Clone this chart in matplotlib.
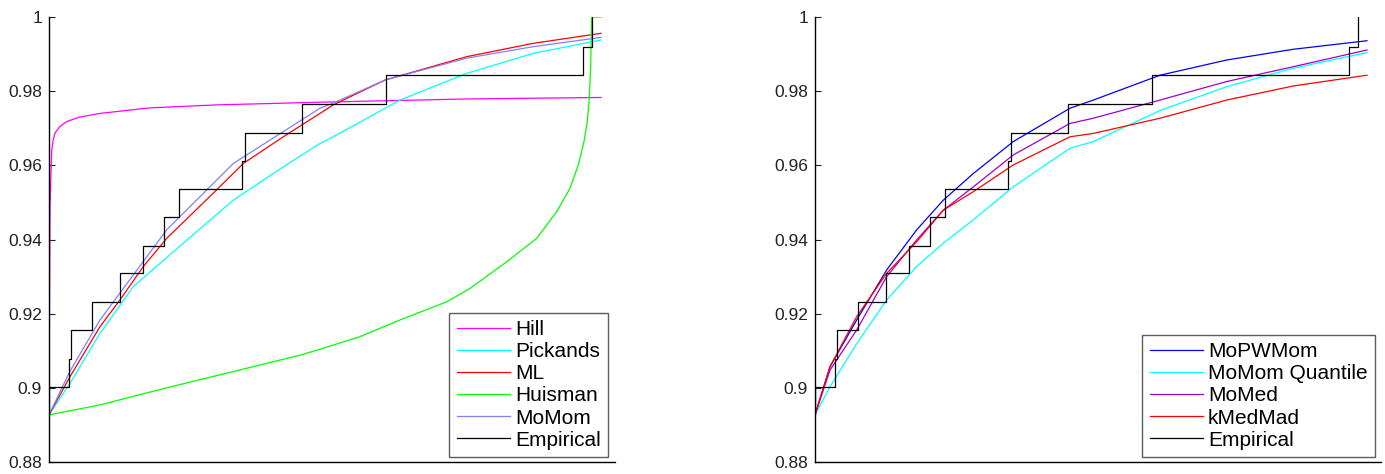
import matplotlib.pyplot as plt
import numpy as np

plt.rcParams['font.family'] = ['Liberation Sans', 'DejaVu Sans']

# Empirical exceedance CDF (shared by both panels)
emp_x = [0, 0, 3.68, 3.93, 7.74, 12.86, 16.97, 20.89, 23.55, 35.02, 35.51, 45.89, 61.0, 96.79, 98.32]
emp_y = [0.8927, 0.9002, 0.9078, 0.9155, 0.9232, 0.9309, 0.9383, 0.9461, 0.9537,
         0.9612, 0.9688, 0.9765, 0.9843, 0.9920, 1.0]

# Left panel fits
hill_x = [0, 0.09, 0.18, 0.49, 0.75, 1.09, 2.0, 3.21, 5.5, 9.24, 18.3, 30.38, 48.5, 75.67, 100]
hill_y = [0.8927, 0.92, 0.9488, 0.9641, 0.9668, 0.9687, 0.9705, 0.9718, 0.973, 0.974, 0.9755,
          0.9763, 0.977, 0.9779, 0.9783]

pick_x = [0, 3.8, 9.24, 15.27, 24.33, 33.39, 42.45, 49.09, 51.5, 63.59, 75.67, 87.74, 100]
pick_y = [0.8927, 0.9012, 0.9147, 0.9273, 0.939, 0.9506, 0.9596, 0.9659, 0.9677, 0.9776, 0.9848, 0.9902, 0.9938]

ml_x = [0, 3.8, 9.24, 12.86, 17.08, 21.32, 29.76, 35.2, 42.45, 49.09, 51.5, 60.87, 75.67, 87.74, 100]
ml_y = [0.8927, 0.903, 0.9165, 0.9237, 0.9327, 0.9403, 0.9525, 0.9605, 0.9677, 0.974, 0.9763, 0.983,
        0.9893, 0.9929, 0.9956]

huis_x = [0, 9.24, 21.32, 45.47, 49.09, 56.34, 63.59, 72.05, 76.27, 82.92, 88.35, 91.97, 94.38,
          95.89, 96.92, 97.52, 97.88, 98.13, 98.32, 98.37, 100]
huis_y = [0.8927, 0.8954, 0.9, 0.9088, 0.9104, 0.9138, 0.9183, 0.9232, 0.9268, 0.934, 0.9403,
          0.9475, 0.9538, 0.9601, 0.9664, 0.9718, 0.9781, 0.9871, 0.9996, 1.0, 1.0]

momom_x = [0, 3.8, 9.24, 21.32, 33.39, 49.09, 51.5, 60.87, 75.67, 87.74, 100]
momom_y = [0.8927, 0.9045, 0.9183, 0.9426, 0.9605, 0.9754, 0.9768, 0.983, 0.9889, 0.992, 0.9945]

# Right panel fits
rx = [0, 2.72, 7.55, 12.99, 18.42, 23.24, 28.68, 35.92, 46.2, 50.42, 62.5, 74.58, 86.65, 100]
pwm_y = [0.8927, 0.9057, 0.9183, 0.9318, 0.9426, 0.9506, 0.9578, 0.9664, 0.9754, 0.9776, 0.9843,
         0.9884, 0.9913, 0.9936]
mmq_y = [0.8927, 0.9003, 0.9119, 0.9237, 0.9327, 0.939, 0.9453, 0.9542, 0.9646, 0.9664, 0.9748,
         0.9812, 0.9862, 0.9904]
mmed_y = [0.8927, 0.9048, 0.9156, 0.93, 0.9399, 0.9479, 0.9542, 0.9628, 0.9713, 0.9727, 0.9776,
          0.9826, 0.9866, 0.9911]
kmm_y = [0.8927, 0.9057, 0.9192, 0.9309, 0.9394, 0.9479, 0.9529, 0.9601, 0.9677, 0.9686, 0.9727,
         0.9776, 0.9814, 0.9843]

yticks = [0.88, 0.90, 0.92, 0.94, 0.96, 0.98, 1.0]
ytick_labels = ['0.88', '0.9', '0.92', '0.94', '0.96', '0.98', '1']

fig = plt.figure(figsize=(13.85, 4.74), dpi=100)
W, H = 1385, 474
ax1 = fig.add_axes([49 / W, 12 / H, 566 / W, 445 / H])
ax2 = fig.add_axes([815 / W, 12 / H, 566 / W, 445 / H])

lw = 0.9
ax1.plot(hill_x, hill_y, color='#FF00FF', lw=lw, label='Hill')
ax1.plot(pick_x, pick_y, color='#00FFFF', lw=lw, label='Pickands')
ax1.plot(ml_x, ml_y, color='#FF0000', lw=lw, label='ML')
ax1.plot(huis_x, huis_y, color='#00FF00', lw=lw, label='Huisman')
ax1.plot(momom_x, momom_y, color='#8080FF', lw=lw, label='MoMom')
ax1.plot(emp_x, emp_y, color='black', lw=lw, drawstyle='steps-post', label='Empirical')

ax2.plot(rx, pwm_y, color='#0000FF', lw=lw, label='MoPWMom')
ax2.plot(rx, mmq_y, color='#00FFFF', lw=lw, label='MoMom Quantile')
ax2.plot(rx, mmed_y, color='#A000D0', lw=lw, label='MoMed')
ax2.plot(rx, kmm_y, color='#FF0000', lw=lw, label='kMedMad')
ax2.plot(emp_x, emp_y, color='black', lw=lw, drawstyle='steps-post', label='Empirical')

for ax, anchor in ((ax1, 0.9876), (ax2, 0.9894)):
    ax.set_xlim(0, 100 * 566 / 552)
    ax.set_ylim(0.88, 1.0)
    ax.set_yticks(yticks)
    ax.set_yticklabels(ytick_labels)
    ax.set_xticks([])
    ax.spines['top'].set_visible(False)
    ax.spines['right'].set_visible(False)
    for s in ('left', 'bottom'):
        ax.spines[s].set_linewidth(1.0)
        ax.spines[s].set_color('black')
    ax.tick_params(axis='y', direction='in', length=4, width=0.8, pad=5, labelsize=12.5, colors='#222222')
    leg = ax.legend(loc='lower right', bbox_to_anchor=(anchor, 0.0112), borderaxespad=0,
                    fontsize=15, frameon=True, fancybox=False, handlelength=2.55,
                    handletextpad=0.25, labelspacing=0.15, borderpad=0.35)
    leg.get_frame().set_edgecolor('#333333')
    leg.get_frame().set_linewidth(1.0)

fig.savefig('out.png', dpi=100)
